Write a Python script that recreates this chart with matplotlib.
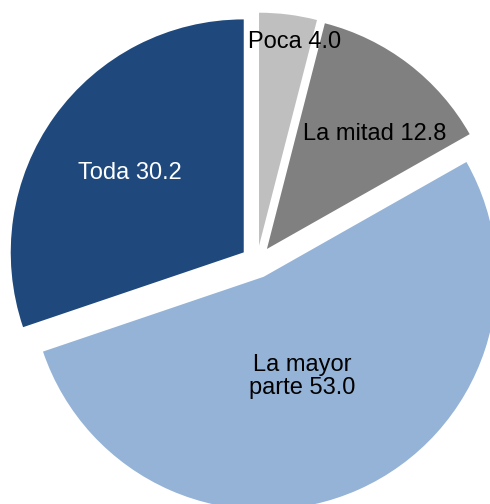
import numpy as np
import matplotlib.pyplot as plt

# Data
categories = ['Poca', 'La mitad', 'La mayor\nparte', 'Toda']
values = [4.0, 12.8, 53.0, 30.2]
colors = ['#BFBFBF', '#808080', '#95B3D7', '#1F497D']
text_colors = ['black', 'black', 'black', 'white']

# label placement: distance from wedge apex (fraction of radius) and angle shift (deg)
label_dist = [0.89, 0.676, 0.46, 0.597]
label_shift = [-2.8, -5.7, -3.1, 0.9]

plt.rcParams['font.family'] = ['Liberation Sans', 'DejaVu Sans']

fig = plt.figure(figsize=(4.9, 5.04), dpi=100)
ax = fig.add_axes([0, 0, 1, 1])

wedges, _ = ax.pie(values, colors=colors, startangle=90, counterclock=False,
                   explode=[0.07] * len(values), radius=1.0,
                   wedgeprops=dict(linewidth=0))

for w, cat, val, d, sh, tc in zip(wedges, categories, values, label_dist,
                                  label_shift, text_colors):
    mid = np.deg2rad((w.theta1 + w.theta2) / 2 + sh)
    cx, cy = w.center
    ax.text(cx + d * np.cos(mid), cy + d * np.sin(mid), f'{cat} {val:.1f}',
            ha='center', va='center', fontsize=17, color=tc, linespacing=1.05)

# pie is cropped at the right and bottom like in the original
ax.set_xlim(-1.103, 1.0)
ax.set_ylim(-1.039, 1.124)
ax.set_aspect('equal')
ax.axis('off')

plt.savefig('out.png', dpi=100)
